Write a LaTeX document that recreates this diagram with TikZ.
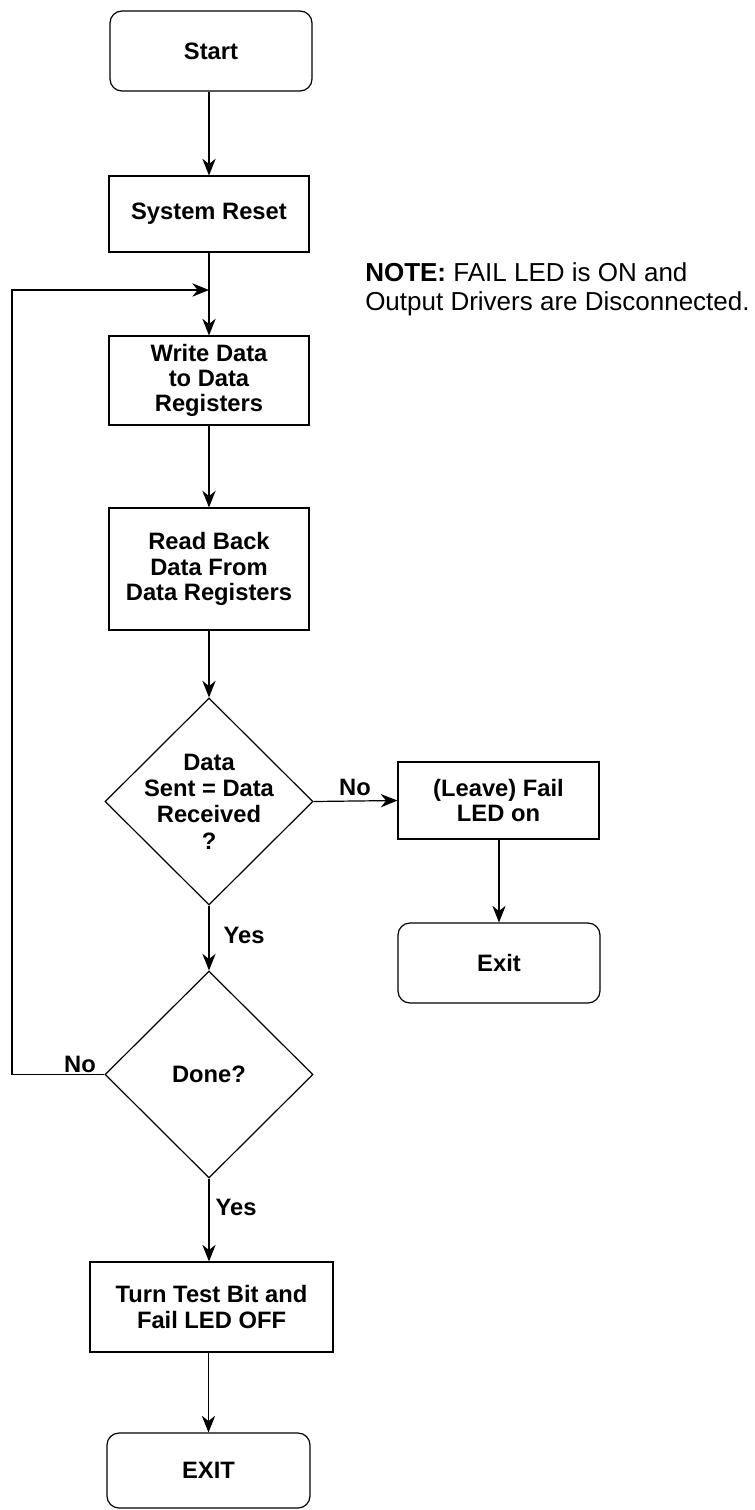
\documentclass[tikz,border=0pt]{standalone}
\usepackage{fontspec}
\setmainfont{Liberation Sans}
\usetikzlibrary{shapes.geometric,arrows.meta}
\begin{document}
\begin{tikzpicture}[x=0.75pt,y=-0.75pt,
  every node/.style={font=\fontsize{17.8}{19}\selectfont\bfseries},
  base/.style={draw,line width=0.9pt,inner sep=0pt,align=center},
  proc/.style={base,rectangle},
  term/.style={base,rectangle,rounded corners=9pt},
  dec/.style={base,diamond,minimum width=156pt,minimum height=155.25pt},
  lbl/.style={inner sep=0pt},
  arr/.style={line width=0.9pt,-{Stealth[length=12.5pt,width=10pt,inset=4pt]}},
  ln/.style={line width=0.9pt}]
\useasboundingbox (0,0) rectangle (754,1510);
\node[term,minimum width=151.5pt,minimum height=60pt] (start) at (211,51) {Start};
\node[proc,minimum width=150pt,minimum height=57pt] (reset) at (209,214) {System Reset};
\node[proc,minimum width=150pt,minimum height=66.75pt] (write) at (209,380.5) {Write Data\\ to Data\\Registers};
\node[proc,minimum width=150pt,minimum height=91.5pt] (read) at (209,569) {Read Back\\Data From\\Data Registers};
\node[dec,label={[align=center,font=\fontsize{17.8}{19.8}\selectfont\bfseries]center:Data\\Sent = Data\\Received\\?}] (d1) at (209,801.5) {};
\node[proc,minimum width=150.75pt,minimum height=57.75pt] (fail) at (498.5,800.5) {(Leave) Fail\\LED on};
\node[term,minimum width=151.5pt,minimum height=60pt] (exit1) at (499,963) {Exit};
\node[dec,label={center:Done?}] (d2) at (209,1074.5) {};
\node[proc,minimum width=182.25pt,minimum height=67.5pt] (turn) at (211.5,1307) {Turn Test Bit and\\ Fail LED OFF};
\node[term,minimum width=152.25pt,minimum height=56.25pt] (exit2) at (208.5,1470.5) {EXIT};

\node[lbl,anchor=north west,align=left,font=\fontsize{19.5}{22}\selectfont] (note) at (365,262)
  {\textbf{NOTE:} FAIL LED is ON and\\Output Drivers are Disconnected.};

\coordinate (loopj) at (209,290);
\coordinate (loopl) at (12,290);

\draw[arr] (start.south -| reset.north) -- (reset.north);
\draw[arr] (reset.south) -- (write.north);
\draw[arr] (write.south) -- (read.north);
\draw[arr] (read.south) -- (d1.north);
\draw[arr] (d1.east) -- (fail.west);
\draw[arr] (d1.south) -- (d2.north);
\draw[arr] (fail.south -| exit1.north) -- (exit1.north);
\draw[arr] (d2.south) -- (d2.south |- turn.north);
\draw[arr] (turn.south -| exit2.north) -- (exit2.north);
\draw[arr] (d2.west) -| (loopl) -- (loopj);

\node[lbl] (no1) at (355,787) {No};
\node[lbl] (yes1) at (244,935) {Yes};
\node[lbl] (yes2) at (236,1207) {Yes};
\node[lbl] (no2) at (80,1064) {No};
\end{tikzpicture}
\end{document}
